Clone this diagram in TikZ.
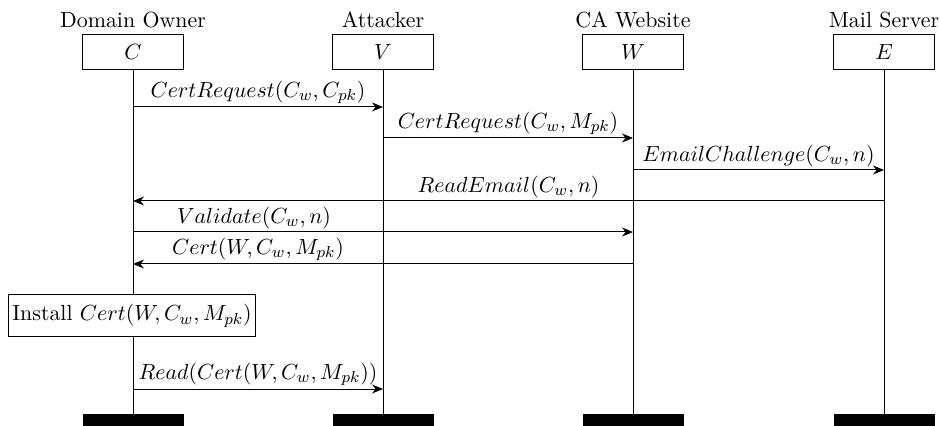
\documentclass[tikz,border=0pt,11pt]{standalone}
\usetikzlibrary{arrows.meta}
\begin{document}
\begin{tikzpicture}[x=0.5pt,y=-0.5pt,
  actor/.style={draw,line width=0.5pt,minimum width=50.5pt,minimum height=17.5pt,inner sep=0pt},
  title/.style={anchor=base,inner sep=0pt},
  endbar/.style={fill=black,minimum width=50.5pt,minimum height=6pt,inner sep=0pt,anchor=north},
  life/.style={line width=0.5pt},
  msg/.style={line width=0.5pt,-{Stealth[length=5.5pt,width=4.5pt,inset=1.8pt]}},
  lbl/.style={above,inner sep=1.2pt}]
\useasboundingbox (0,0) rectangle (940,426);
% titles
\node[title] (tC) at (133,28) {Domain Owner};
\node[title] (tV) at (383,28) {Attacker};
\node[title] (tW) at (633,28) {CA Website};
\node[title] (tE) at (884,28) {Mail Server};
% actor boxes
\node[actor] (C) at (133,52.5) {$C$};
\node[actor] (V) at (383,52.5) {$V$};
\node[actor] (W) at (633,52.5) {$W$};
\node[actor] (E) at (884,52.5) {$E$};
% end bars
\node[endbar] (bC) at (133,414) {};
\node[endbar] (bV) at (383,414) {};
\node[endbar] (bW) at (633,414) {};
\node[endbar] (bE) at (884,414) {};
% lifelines
\draw[life] (C.south) -- (bC.north);
\draw[life] (V.south) -- (bV.north);
\draw[life] (W.south) -- (bW.north);
\draw[life] (E.south) -- (bE.north);
% install box
\node[draw,line width=0.5pt,fill=white,minimum height=21pt,minimum width=122pt,inner sep=2pt] (inst) at (132,316) {Install $Cert(W,C_w,M_{pk})$};
% message coordinates
\coordinate (c1) at (133,107); \coordinate (v1) at (383,107);
\coordinate (v2) at (383,138); \coordinate (w2) at (633,138);
\coordinate (w3) at (633,170); \coordinate (e3) at (884,170);
\coordinate (e4) at (884,201); \coordinate (c4) at (133,201);
\coordinate (c5) at (133,232); \coordinate (w5) at (633,232);
\coordinate (w6) at (633,264); \coordinate (c6) at (133,264);
\coordinate (c7) at (133,389); \coordinate (v7) at (383,389);
% messages
\draw[msg] (c1) -- node[lbl] {$CertRequest(C_w,C_{pk})$} (v1);
\draw[msg] (v2) -- node[lbl] {$CertRequest(C_w,M_{pk})$} (w2);
\draw[msg] (w3) -- node[lbl] {$EmailChallenge(C_w,n)$} (e3);
\draw[msg] (e4) -- node[lbl] {$ReadEmail(C_w,n)$} (c4);
\draw[msg] (c5) -- node[lbl,pos=0.242] {$Validate(C_w,n)$} (w5);
\draw[msg] (w6) -- node[lbl,pos=0.75] {$Cert(W,C_w,M_{pk})$} (c6);
\draw[msg] (c7) -- node[lbl] {$Read(Cert(W,C_w,M_{pk}))$} (v7);
\end{tikzpicture}
\end{document}
